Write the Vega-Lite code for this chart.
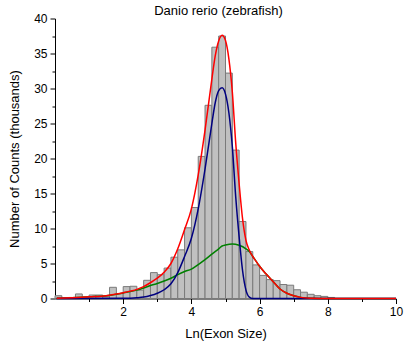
{
  "$schema": "https://vega.github.io/schema/vega-lite/v6.json",
  "width": 341,
  "height": 280,
  "autosize": {"type": "none"},
  "padding": {"left": 55, "top": 18.5, "right": 9, "bottom": 48.5},
  "background": "white",
  "title": {"text": "Danio rerio (zebrafish)", "font": "Liberation Sans", "fontSize": 13, "fontWeight": "normal", "color": "#000000", "offset": -5, "dx": -7, "anchor": "middle"},
  "config": {
    "view": {"stroke": null},
    "axis": {"domainColor": "#000000", "tickColor": "#000000", "labelColor": "#000000", "titleColor": "#000000", "labelFont": "Liberation Sans", "labelFontSize": 12, "titleFont": "Liberation Sans", "titleFontSize": 13, "titleFontWeight": "normal", "grid": false, "domainWidth": 1, "tickWidth": 1}
  },
  "datasets": {
    "bins": [
      {"x0": 0.0, "x1": 0.2, "count": 0.4},
      {"x0": 0.2, "x1": 0.4, "count": 0.1},
      {"x0": 0.4, "x1": 0.6, "count": 0.15},
      {"x0": 0.6, "x1": 0.8, "count": 0.65},
      {"x0": 0.8, "x1": 1.0, "count": 0.2},
      {"x0": 1.0, "x1": 1.2, "count": 0.5},
      {"x0": 1.2, "x1": 1.4, "count": 0.5},
      {"x0": 1.4, "x1": 1.6, "count": 0.25},
      {"x0": 1.6, "x1": 1.8, "count": 1.6},
      {"x0": 1.8, "x1": 2.0, "count": 0.7},
      {"x0": 2.0, "x1": 2.2, "count": 1.7},
      {"x0": 2.2, "x1": 2.4, "count": 1.75},
      {"x0": 2.4, "x1": 2.6, "count": 1.2},
      {"x0": 2.6, "x1": 2.8, "count": 2.6},
      {"x0": 2.8, "x1": 3.0, "count": 3.7},
      {"x0": 3.0, "x1": 3.2, "count": 3.4},
      {"x0": 3.2, "x1": 3.4, "count": 4.35},
      {"x0": 3.4, "x1": 3.6, "count": 5.9},
      {"x0": 3.6, "x1": 3.8, "count": 6.95},
      {"x0": 3.8, "x1": 4.0, "count": 10.1},
      {"x0": 4.0, "x1": 4.2, "count": 13.0},
      {"x0": 4.2, "x1": 4.4, "count": 20.3},
      {"x0": 4.4, "x1": 4.6, "count": 27.6},
      {"x0": 4.6, "x1": 4.8, "count": 35.9},
      {"x0": 4.8, "x1": 5.0, "count": 37.5},
      {"x0": 5.0, "x1": 5.2, "count": 32.2},
      {"x0": 5.2, "x1": 5.4, "count": 21.2},
      {"x0": 5.4, "x1": 5.6, "count": 11.0},
      {"x0": 5.6, "x1": 5.8, "count": 6.7},
      {"x0": 5.8, "x1": 6.0, "count": 4.8},
      {"x0": 6.0, "x1": 6.2, "count": 3.3},
      {"x0": 6.2, "x1": 6.4, "count": 2.7},
      {"x0": 6.4, "x1": 6.6, "count": 2.55},
      {"x0": 6.6, "x1": 6.8, "count": 2.0},
      {"x0": 6.8, "x1": 7.0, "count": 1.9},
      {"x0": 7.0, "x1": 7.2, "count": 1.25},
      {"x0": 7.2, "x1": 7.4, "count": 0.9},
      {"x0": 7.4, "x1": 7.6, "count": 0.6},
      {"x0": 7.6, "x1": 7.8, "count": 0.4},
      {"x0": 7.8, "x1": 8.0, "count": 0.3},
      {"x0": 8.0, "x1": 8.2, "count": 0.15}
    ],
    "curves": [
      {"s": "green", "x": 0.05, "y": 0.04},
      {"s": "green", "x": 0.5, "y": 0.12},
      {"s": "green", "x": 1.0, "y": 0.25},
      {"s": "green", "x": 1.5, "y": 0.4},
      {"s": "green", "x": 1.8, "y": 0.62},
      {"s": "green", "x": 2.0, "y": 0.8},
      {"s": "green", "x": 2.4, "y": 1.2},
      {"s": "green", "x": 2.6, "y": 1.5},
      {"s": "green", "x": 2.8, "y": 1.85},
      {"s": "green", "x": 3.0, "y": 2.15},
      {"s": "green", "x": 3.2, "y": 2.5},
      {"s": "green", "x": 3.4, "y": 2.9},
      {"s": "green", "x": 3.6, "y": 3.4},
      {"s": "green", "x": 3.8, "y": 3.85},
      {"s": "green", "x": 4.0, "y": 4.2},
      {"s": "green", "x": 4.2, "y": 4.85},
      {"s": "green", "x": 4.4, "y": 5.55},
      {"s": "green", "x": 4.6, "y": 6.35},
      {"s": "green", "x": 4.8, "y": 7.1},
      {"s": "green", "x": 4.9, "y": 7.5},
      {"s": "green", "x": 5.0, "y": 7.65},
      {"s": "green", "x": 5.2, "y": 7.8},
      {"s": "green", "x": 5.4, "y": 7.6},
      {"s": "green", "x": 5.6, "y": 7.1},
      {"s": "green", "x": 5.7, "y": 6.7},
      {"s": "green", "x": 5.8, "y": 6.0},
      {"s": "green", "x": 5.9, "y": 5.3},
      {"s": "green", "x": 6.0, "y": 4.6},
      {"s": "green", "x": 6.2, "y": 3.45},
      {"s": "green", "x": 6.4, "y": 2.4},
      {"s": "green", "x": 6.6, "y": 1.35},
      {"s": "green", "x": 6.8, "y": 0.75},
      {"s": "green", "x": 7.0, "y": 0.38},
      {"s": "green", "x": 7.2, "y": 0.16},
      {"s": "green", "x": 7.5, "y": 0.04},
      {"s": "green", "x": 8.0, "y": 0.0},
      {"s": "green", "x": 10.0, "y": 0.0},
      {"s": "blue", "x": 0.05, "y": 0.0},
      {"s": "blue", "x": 2.0, "y": 0.02},
      {"s": "blue", "x": 2.4, "y": 0.1},
      {"s": "blue", "x": 2.6, "y": 0.2},
      {"s": "blue", "x": 2.8, "y": 0.42},
      {"s": "blue", "x": 3.0, "y": 0.75},
      {"s": "blue", "x": 3.2, "y": 1.25},
      {"s": "blue", "x": 3.4, "y": 2.1},
      {"s": "blue", "x": 3.6, "y": 3.7},
      {"s": "blue", "x": 3.8, "y": 6.0},
      {"s": "blue", "x": 4.0, "y": 8.6},
      {"s": "blue", "x": 4.2, "y": 12.8},
      {"s": "blue", "x": 4.4, "y": 18.5},
      {"s": "blue", "x": 4.6, "y": 25.0},
      {"s": "blue", "x": 4.7, "y": 28.0},
      {"s": "blue", "x": 4.8, "y": 29.7},
      {"s": "blue", "x": 4.9, "y": 30.1},
      {"s": "blue", "x": 5.0, "y": 29.2},
      {"s": "blue", "x": 5.1, "y": 26.5},
      {"s": "blue", "x": 5.2, "y": 21.7},
      {"s": "blue", "x": 5.3, "y": 14.5},
      {"s": "blue", "x": 5.4, "y": 8.8},
      {"s": "blue", "x": 5.5, "y": 4.0},
      {"s": "blue", "x": 5.6, "y": 1.2},
      {"s": "blue", "x": 5.7, "y": 0.2},
      {"s": "blue", "x": 5.8, "y": 0.0},
      {"s": "blue", "x": 10.0, "y": 0.0},
      {"s": "red", "x": 0.05, "y": 0.04},
      {"s": "red", "x": 0.5, "y": 0.12},
      {"s": "red", "x": 1.0, "y": 0.25},
      {"s": "red", "x": 1.5, "y": 0.4},
      {"s": "red", "x": 1.8, "y": 0.63},
      {"s": "red", "x": 2.0, "y": 0.82},
      {"s": "red", "x": 2.4, "y": 1.3},
      {"s": "red", "x": 2.6, "y": 1.7},
      {"s": "red", "x": 2.8, "y": 2.27},
      {"s": "red", "x": 3.0, "y": 2.9},
      {"s": "red", "x": 3.2, "y": 3.75},
      {"s": "red", "x": 3.4, "y": 5.0},
      {"s": "red", "x": 3.6, "y": 7.1},
      {"s": "red", "x": 3.8, "y": 9.85},
      {"s": "red", "x": 4.0, "y": 12.8},
      {"s": "red", "x": 4.2, "y": 17.65},
      {"s": "red", "x": 4.4, "y": 24.05},
      {"s": "red", "x": 4.6, "y": 31.35},
      {"s": "red", "x": 4.7, "y": 34.7},
      {"s": "red", "x": 4.8, "y": 36.8},
      {"s": "red", "x": 4.9, "y": 37.6},
      {"s": "red", "x": 5.0, "y": 36.85},
      {"s": "red", "x": 5.1, "y": 34.2},
      {"s": "red", "x": 5.2, "y": 29.5},
      {"s": "red", "x": 5.3, "y": 22.2},
      {"s": "red", "x": 5.4, "y": 16.4},
      {"s": "red", "x": 5.5, "y": 11.4},
      {"s": "red", "x": 5.6, "y": 8.3},
      {"s": "red", "x": 5.7, "y": 6.9},
      {"s": "red", "x": 5.8, "y": 6.0},
      {"s": "red", "x": 5.9, "y": 5.3},
      {"s": "red", "x": 6.0, "y": 4.6},
      {"s": "red", "x": 6.2, "y": 3.45},
      {"s": "red", "x": 6.4, "y": 2.4},
      {"s": "red", "x": 6.6, "y": 1.35},
      {"s": "red", "x": 6.8, "y": 0.75},
      {"s": "red", "x": 7.0, "y": 0.38},
      {"s": "red", "x": 7.2, "y": 0.16},
      {"s": "red", "x": 7.5, "y": 0.04},
      {"s": "red", "x": 8.0, "y": 0.0},
      {"s": "red", "x": 10.0, "y": 0.0}
    ]
  },
  "resolve": {"axis": {"x": "independent", "y": "independent"}},
  "layer": [
    {
      "data": {"name": "bins"},
      "mark": {"type": "bar", "fill": "#c0c0c0", "stroke": "#7a7a7a", "strokeWidth": 1},
      "encoding": {
        "x": {"field": "x0", "type": "quantitative", "scale": {"domain": [0, 10], "nice": false, "zero": false},
              "axis": {"orient": "bottom", "values": [2, 4, 6, 8, 10], "tickSize": 5, "labelPadding": 3, "title": "Ln(Exon Size)", "titlePadding": 10, "labelFlush": false}},
        "x2": {"field": "x1"},
        "y": {"field": "count", "type": "quantitative", "scale": {"domain": [0, 40], "nice": false},
              "axis": {"orient": "left", "values": [0, 5, 10, 15, 20, 25, 30, 35, 40], "tickSize": 5, "labelPadding": 3, "title": "Number of Counts (thousands)", "titlePadding": 12, "labelFlush": false}},
        "y2": {"datum": 0}
      }
    },
    {
      "data": {"name": "curves"},
      "transform": [{"filter": "datum.s === 'green'"}],
      "mark": {"type": "line", "color": "#008000", "strokeWidth": 1.5, "interpolate": "monotone"},
      "encoding": {
        "x": {"field": "x", "type": "quantitative", "scale": {"domain": [0, 10], "nice": false, "zero": false},
              "axis": {"orient": "bottom", "values": [1, 3, 5, 7, 9], "tickSize": 3, "labels": false, "domain": false, "title": null}},
        "y": {"field": "y", "type": "quantitative", "scale": {"domain": [0, 40], "nice": false},
              "axis": {"orient": "left", "values": [2.5, 7.5, 12.5, 17.5, 22.5, 27.5, 32.5, 37.5], "tickSize": 3, "labels": false, "domain": false, "title": null}}
      }
    },
    {
      "data": {"name": "curves"},
      "transform": [{"filter": "datum.s === 'blue'"}],
      "mark": {"type": "line", "color": "#000080", "strokeWidth": 1.5, "interpolate": "monotone"},
      "encoding": {
        "x": {"field": "x", "type": "quantitative", "axis": null},
        "y": {"field": "y", "type": "quantitative", "axis": null}
      }
    },
    {
      "data": {"name": "curves"},
      "transform": [{"filter": "datum.s === 'red'"}],
      "mark": {"type": "line", "color": "#ff0000", "strokeWidth": 1.5, "interpolate": "monotone"},
      "encoding": {
        "x": {"field": "x", "type": "quantitative", "axis": null},
        "y": {"field": "y", "type": "quantitative", "axis": null}
      }
    }
  ]
}
